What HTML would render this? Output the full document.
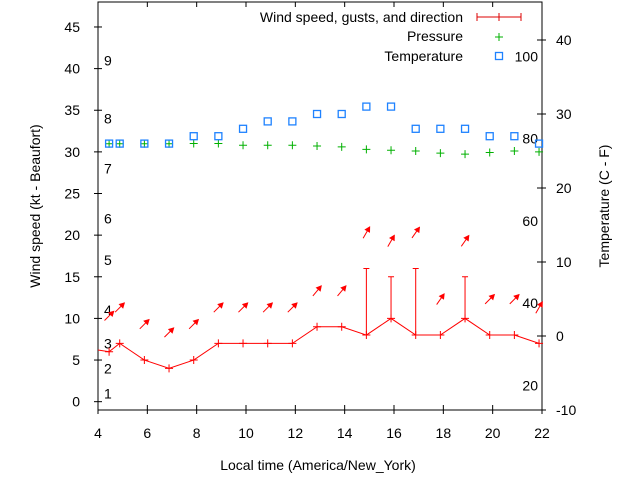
<!DOCTYPE html>
<html><head><meta charset="utf-8"><style>
body{margin:0;background:#fff}
svg{display:block;font-family:"Liberation Sans",sans-serif}
text{font-size:14px;fill:#000}
</style></head><body>
<svg id="c" width="640" height="480" viewBox="0 0 640 480">
<g id="frame"></g>
<g id="marks"></g>
<g id="legend">
<text x="463" y="22" text-anchor="end">Wind speed, gusts, and direction</text>
<line x1="477" y1="17" x2="521" y2="17" stroke="#d00" stroke-width="1"/>
<line x1="477" y1="13" x2="477" y2="21" stroke="#d00"/>
<line x1="499" y1="13" x2="499" y2="21" stroke="#d00"/>
<line x1="521" y1="13" x2="521" y2="21" stroke="#d00"/>
<text x="463" y="41" text-anchor="end">Pressure</text>
<text x="463" y="61" text-anchor="end">Temperature</text>
</g>
<text x="318" y="470" text-anchor="middle">Local time (America/New_York)</text>
<text transform="translate(40,206) rotate(-90)" text-anchor="middle">Wind speed (kt - Beaufort)</text>
<text transform="translate(609,206) rotate(-90)" text-anchor="middle">Temperature (C - F)</text>
</svg>
<script>
const times=[4.45,4.88,5.88,6.88,7.88,8.88,9.88,10.88,11.88,12.88,13.88,14.88,15.88,16.88,17.88,18.88,19.88,20.88,21.88];
const wind=[6,7,5,4,5,7,7,7,7,9,9,8,10,8,8,10,8,8,7];
const gusts=[null,null,null,null,null,null,null,null,null,null,null,16,15,16,null,15,null,null,null];
const dirAngle=[45,45,45,45,45,45,45,45,45,50,50,60,60,55,55,55,45,45,60];
const pressure=[30.97,30.97,30.97,30.97,31.0,31.0,30.8,30.8,30.8,30.7,30.6,30.3,30.2,30.1,29.85,29.73,29.93,30.1,30.0];
const temps=[26,26,26,26,27,27,28,29,29,30,30,31,31,28,28,28,27,27,26];
const xTicks=[4,6,8,10,12,14,16,18,20,22];
const yTicksLeft=[0,5,10,15,20,25,30,35,40,45];
const yTicksRight=[-10,0,10,20,30,40];
const beaufort=[1,2,3,4,5,6,7,8,9];
const beaufortKt=[1,4,7,11,17,22,28,34,41];
const fahr=[20,40,60,80,100];

const L=98,R=542,T=2,B=410;
const X=v=>L+(v-4)/(22-4)*(R-L);
const YL=v=>B-(v+1)/(48+1)*(B-T);
const YR=v=>336-v*7.4;
const NS='http://www.w3.org/2000/svg';
function mk(tag,attrs,parent,txt){const e=document.createElementNS(NS,tag);for(const k in attrs)e.setAttribute(k,attrs[k]);if(txt!=null)e.textContent=txt;parent.appendChild(e);return e;}
const fr=document.getElementById('frame'),mg=document.getElementById('marks'),lg=document.getElementById('legend');

let e=mk('rect',{x:L,y:T,width:R-L,height:B-T,fill:'none',stroke:'#000'},fr);


xTicks.forEach(t=>{
  let l=mk('line',{x1:X(t),x2:X(t),y1:B-5,y2:B+4,stroke:'#000'},fr);
  
  
  let l2=mk('line',{x1:X(t),x2:X(t),y1:T,y2:T+5,stroke:'#000'},fr);
  
  
  let tx=mk('text',{x:X(t),y:438,'text-anchor':'middle'},fr,t);
  
  
});
yTicksLeft.forEach(t=>{
  let l=mk('line',{x1:L-4,x2:L+4,y1:YL(t),y2:YL(t),stroke:'#000'},fr);
  
  
  let tx=mk('text',{x:80,y:YL(t)+5,'text-anchor':'end'},fr,t);
  
  
});
yTicksRight.forEach(t=>{
  let l=mk('line',{x1:R-5,x2:R+4,y1:YR(t),y2:YR(t),stroke:'#000'},fr);
  
  
  let tx=mk('text',{x:556,y:YR(t)+5,'text-anchor':'start'},fr,t);
  
  
});
beaufort.forEach((b,i)=>{
  let tx=mk('text',{x:104,y:YL(beaufortKt[i])+5},fr,b);
  
  
});
fahr.forEach(f=>{
  let tx=mk('text',{x:538,y:YR((f-32)*5/9)+5,'text-anchor':'end'},fr,f);
  
  
});
// pressure
function plus(x,y,c,name){
  let p=mk('path',{d:`M${x-4},${y}h8M${x},${y-4}v8`,stroke:c,fill:'none'},mg);
  
  
}
pressure.forEach((p,i)=>plus(X(times[i]),YL(p),'#00b000','pressure-point'));
plus(499,37,'#00b000','legend-pressure-sample');
// temperature
temps.forEach((t,i)=>{
  let r=mk('rect',{x:X(times[i])-3.5,y:YR(t)-3.5,width:7,height:7,fill:'none',stroke:'#1e82ff','stroke-width':1.3},mg);
  
  
});
e=mk('rect',{x:495.5,y:52.5,width:7,height:7,fill:'none',stroke:'#1e82ff','stroke-width':1.3},lg);


// wind line
let d=wind.map((w,i)=>(i?'L':'M')+X(times[i])+','+YL(w)).join('');
e=mk('path',{d:`M${L},${YL(6.2)}L`+d.slice(1),stroke:'#f00',fill:'none'},mg);


wind.forEach((w,i)=>{
  plus(X(times[i]),YL(w),'#f00','wind-speed-point');
  if(gusts[i]!=null){
    let g=mk('path',{d:`M${X(times[i])},${YL(w)}V${YL(gusts[i])}M${X(times[i])-3},${YL(gusts[i])}h6`,stroke:'#f00',fill:'none'},mg);
    
    
  }
  const top=Math.max(w,gusts[i]||0)+4.3;
  const cx=X(times[i]),cy=YL(top),a=dirAngle[i]*Math.PI/180,len=6.5;
  const dx=Math.cos(a)*len,dy=-Math.sin(a)*len;
  const hx=cx+dx,hy=cy+dy;
  const ang=Math.atan2(dy,dx);
  const h1x=hx-5*Math.cos(ang-0.5),h1y=hy-5*Math.sin(ang-0.5);
  const h2x=hx-5*Math.cos(ang+0.5),h2y=hy-5*Math.sin(ang+0.5);
  let ar=mk('g',{},mg);
  
  
  mk('line',{x1:cx-dx,y1:cy-dy,x2:hx,y2:hy,stroke:'#f00'},ar);
  mk('path',{d:`M${hx},${hy}L${h1x},${h1y}L${h2x},${h2y}Z`,fill:'#f00',stroke:'#f00'},ar);
});
</script>
</body></html>
